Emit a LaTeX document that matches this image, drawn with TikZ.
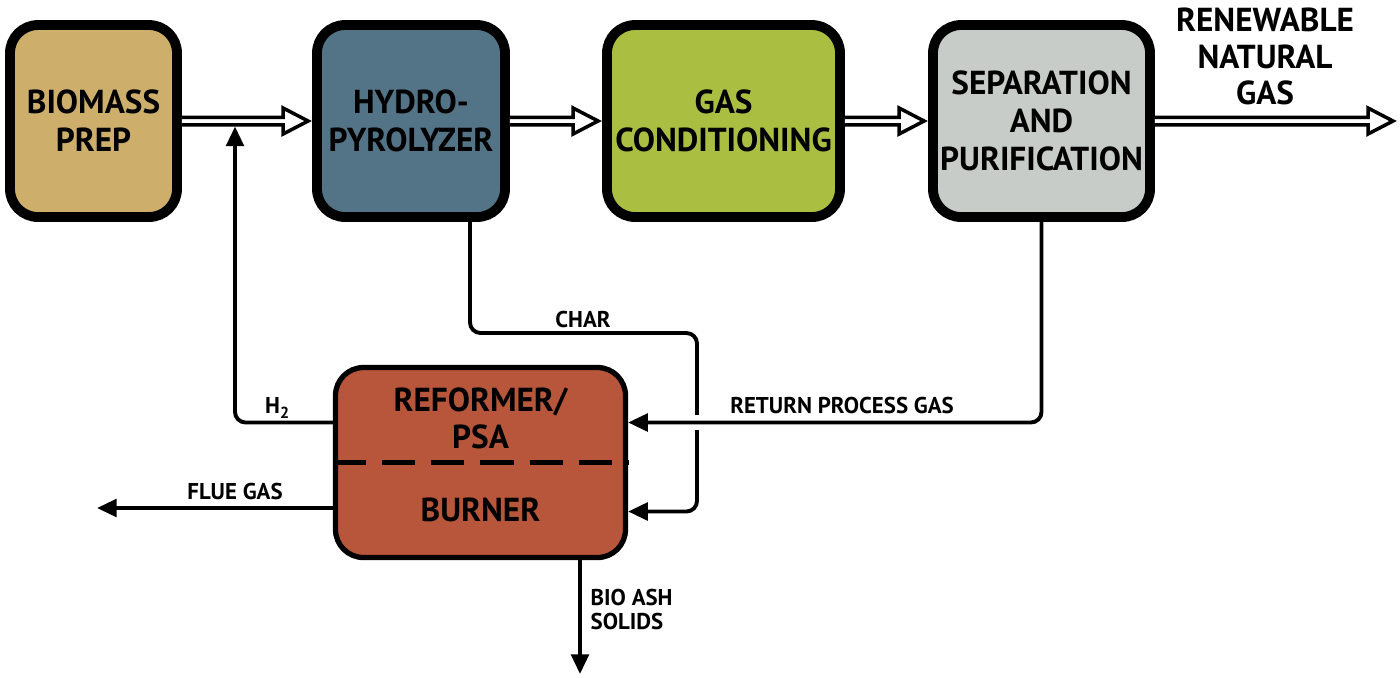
\documentclass[tikz,border=0pt]{standalone}
\usepackage{fontspec}
\setmainfont{PT Sans}
\usetikzlibrary{calc,arrows.meta}

\definecolor{biomass}{RGB}{205,174,106}
\definecolor{hydro}{RGB}{83,115,134}
\definecolor{gascond}{RGB}{170,190,65}
\definecolor{sepgrey}{RGB}{200,204,201}
\definecolor{reformer}{RGB}{183,86,58}

% open double-line arrow from #1 to #2
\newcommand{\hollowarrow}[2]{%
  \draw[line width=1pt, fill=white, line join=miter]
    ($(#1)+(0,0.0375)$) -- ($(#2)+(-0.29,0.0375)$) -- ($(#2)+(-0.29,0.13)$)
    -- ($(#2)+(-0.04,0)$) -- ($(#2)+(-0.29,-0.13)$) -- ($(#2)+(-0.29,-0.0375)$)
    -- ($(#1)+(0,-0.0375)$);
}

\begin{document}
\begin{tikzpicture}[
    unit/.style={draw, line width=2.8pt, rounded corners=0.28cm, align=center,
      inner sep=0pt, minimum height=1.92cm, font=\fontsize{9.45}{10.8}\selectfont\bfseries},
    caption/.style={align=center, inner sep=0pt, font=\fontsize{9.45}{10.5}\selectfont\bfseries},
    flow/.style={line width=1.1pt, -{Triangle[length=5.6pt,width=5pt]}},
    tag/.style={inner sep=0pt, font=\fontsize{6.5}{7.1}\selectfont\bfseries}
  ]
  \useasboundingbox (0,0) rectangle (14,-6.77);

  % process units
  \node[unit, fill=biomass, minimum width=1.67cm] (prep) at (0.935,-1.21) {BIOMASS\\PREP};
  \node[unit, fill=hydro, minimum width=1.88cm] (hydro) at (4.11,-1.21) {HYDRO-\\PYROLYZER};
  \node[unit, fill=gascond, minimum width=2.33cm] (cond) at (7.235,-1.21) {GAS\\CONDITIONING};
  \node[unit, fill=sepgrey, minimum width=2.17cm] (sep) at (10.415,-1.21) {SEPARATION\\AND\\PURIFICATION};
  \node[unit, line width=1.5pt, fill=reformer, minimum width=2.9cm, minimum height=1.9cm] (reformer) at (4.805,-4.625) {};
  \draw[line width=1.6pt, dash pattern=on 9.4pt off 4.6pt] (reformer.west) -- (reformer.east);
  \node[caption] (psa) at ([yshift=0.44cm]reformer.center) {REFORMER/\\PSA};
  \node[caption] (burner) at ([yshift=-0.475cm]reformer.center) {BURNER};

  % main gas line
  \coordinate (rng) at (13.97,-1.21);
  \hollowarrow{prep.east}{hydro.west}
  \hollowarrow{hydro.east}{cond.west}
  \hollowarrow{cond.east}{sep.west}
  \hollowarrow{sep.east}{rng}
  \node[caption] (product) at (12.65,-0.565) {RENEWABLE\\NATURAL\\GAS};

  % hydrogen back to the pyrolyzer
  \coordinate (h2top) at (2.35,-1.265);
  \draw[flow, rounded corners=3pt] ([yshift=0.4cm]reformer.west) -| (h2top);
  \node[tag] (h2) at (2.78,-4.08) {H\textsubscript{2}};

  % char to the burner
  \coordinate (charturn) at (6.97,-3.33);
  \draw[flow, rounded corners=3pt] ([xshift=0.59cm]hydro.south) |- (charturn) |- ([yshift=-0.49cm]reformer.east);
  \node[tag] (char) at (5.83,-3.19) {CHAR};

  % return gas, crossing the char line
  \coordinate (retgas) at ([yshift=0.4cm]reformer.east);
  \coordinate (cross) at (charturn |- retgas);
  \draw[white, line width=4pt] ([xshift=-2pt]cross) -- ([xshift=2pt]cross);
  \draw[flow, rounded corners=3pt] (sep.south) |- (retgas);
  \node[tag] (ret) at (8.42,-4.05) {RETURN PROCESS GAS};

  % flue gas and ash
  \coordinate (flue) at (0.97,-5.08);
  \draw[flow] ([yshift=-0.455cm]reformer.west) -- (flue);
  \node[tag] (fluegas) at (2.35,-4.91) {FLUE GAS};
  \coordinate (ash) at (5.8,-6.74);
  \draw[flow] ([xshift=0.995cm]reformer.south) -- (ash);
  \node[tag, align=left, anchor=west] (ashlabel) at (5.9,-6.095) {BIO ASH\\SOLIDS};
\end{tikzpicture}
\end{document}
